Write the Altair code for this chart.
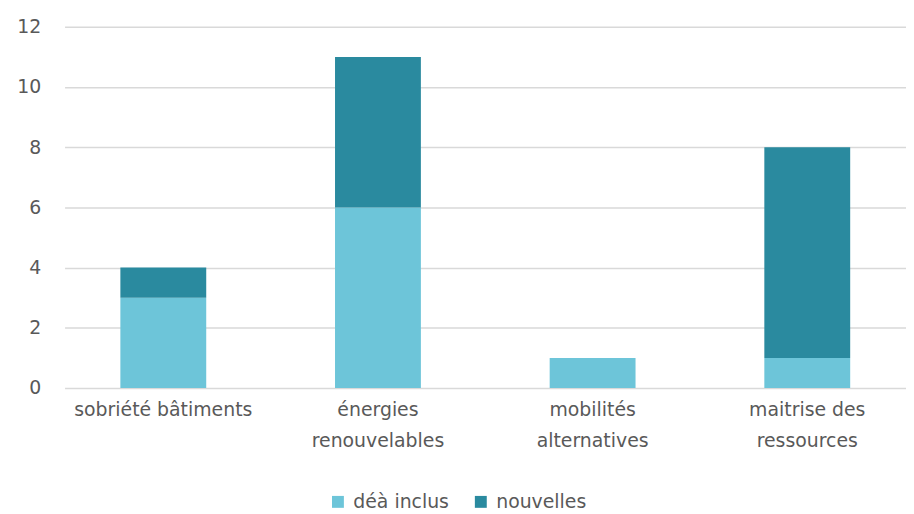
import altair as alt
import pandas as pd

categories = ["sobriété bâtiments", "énergies|renouvelables", "mobilités|alternatives", "maitrise des|ressources"]
series = ["déà inclus", "nouvelles"]
deja = [3, 6, 1, 1]
nouvelles = [1, 5, 0, 7]
colors = ["#6DC5D9", "#2A8A9F"]

rows = []
for c, a, b in zip(categories, deja, nouvelles):
    rows.append({"cat": c, "serie": series[0], "val": a, "ord": 0})
    rows.append({"cat": c, "serie": series[1], "val": b, "ord": 1})
df = pd.DataFrame(rows)

FONT = "DejaVu Sans"
GREY = "#595959"

chart = alt.Chart(df).mark_bar().encode(
    x=alt.X("cat:N", sort=categories, title=None,
            scale=alt.Scale(paddingInner=0.6, paddingOuter=0.26),
            axis=alt.Axis(labelAngle=0, labelExpr="split(datum.value, '|')",
                          labelFontSize=19, labelColor=GREY, labelFont=FONT,
                          labelLineHeight=31, labelPadding=13, grid=False,
                          domain=False, ticks=False)),
    y=alt.Y("val:Q", stack="zero", title=None,
            scale=alt.Scale(domain=[0, 12]),
            axis=alt.Axis(values=[0, 2, 4, 6, 8, 10, 12], labelFontSize=19,
                          labelColor=GREY, labelFont=FONT, labelPadding=24,
                          domain=False, ticks=False, gridColor="#D9D9D9", gridWidth=1.5)),
    color=alt.Color("serie:N", sort=series,
                    scale=alt.Scale(domain=series, range=colors),
                    legend=alt.Legend(orient="none", legendX=266, legendY=469,
                                      direction="horizontal", title=None,
                                      symbolType="square", symbolSize=144, symbolStrokeWidth=0,
                                      labelFontSize=19, labelColor=GREY, labelFont=FONT,
                                      symbolOffset=0, labelOffset=6, columnPadding=22)),
    order=alt.Order("ord:Q"),
).properties(
    width=848, height=364, background="white",
    padding={"left": 8, "top": 8, "right": 0, "bottom": 0},
).configure_view(stroke=None)

chart.save("out.html", embed_options={"renderer": "svg", "actions": False})
